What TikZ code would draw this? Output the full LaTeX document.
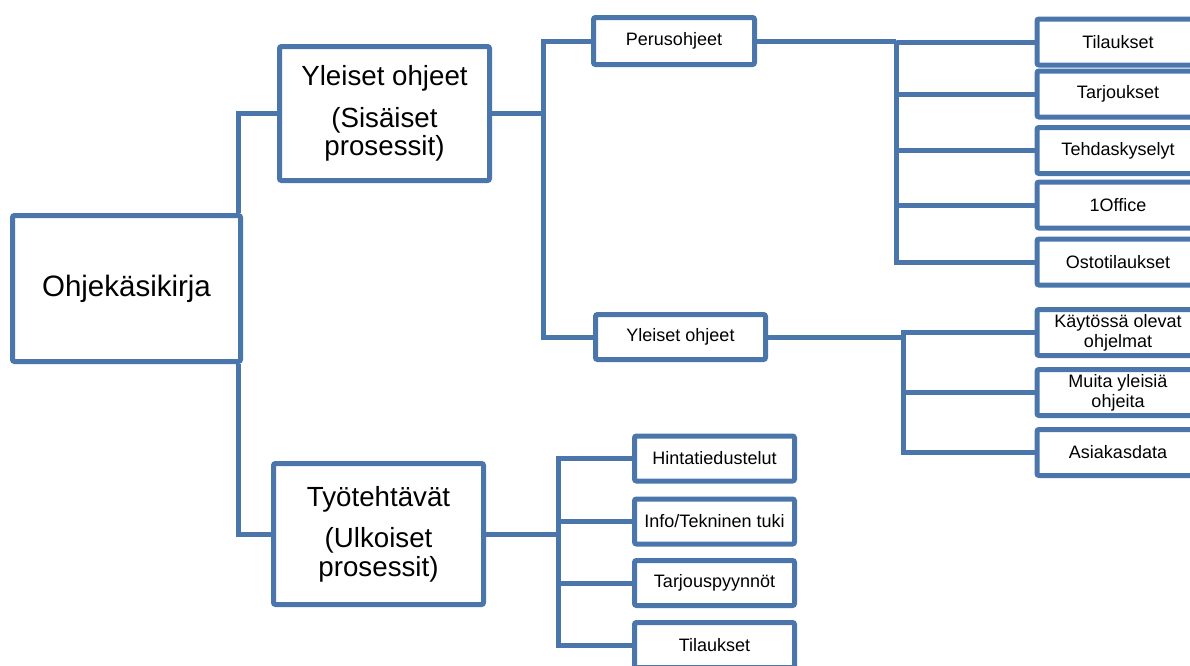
\documentclass[tikz,border=0pt]{standalone}
\usepackage{fontspec}
\setmainfont{Liberation Sans}
\definecolor{orgblue}{RGB}{74,118,172}
\begin{document}
\begin{tikzpicture}[x=1pt,y=-1pt,
  box/.style={draw=orgblue, line width=5pt, fill=white, rounded corners=2pt,
    inner sep=0pt, align=center, text=black},
  rootbox/.style={box, minimum width=228pt, minimum height=146pt,
    font=\fontsize{29.5}{31}\selectfont},
  topbox/.style={box, minimum width=210pt, font=\fontsize{27.7}{28.5}\selectfont},
  midbox/.style={box, minimum height=46pt, font=\fontsize{18}{20}\selectfont},
  leafbox/.style={box, minimum width=162pt, minimum height=46pt,
    font=\fontsize{18}{20}\selectfont},
  taskbox/.style={box, minimum width=160pt, minimum height=45pt,
    font=\fontsize{18}{20}\selectfont},
  link/.style={draw=orgblue, line width=5pt}]
\useasboundingbox (0,0) rectangle (1190,665);
\clip (0,0) rectangle (1190,665);

% main boxes
\node[rootbox] (root) at (126.5,288.5) {Ohjekäsikirja};
\node[topbox, minimum height=134pt] (yo) at (384.5,113.5)
  {Yleiset ohjeet\\[13pt](Sisäiset\\prosessit)};
\node[topbox, minimum height=141pt] (tt) at (378.5,534)
  {Työtehtävät\\[13pt](Ulkoiset\\prosessit)};

% second level
\node[midbox, minimum width=161pt, minimum height=47pt] (per) at (674,41) {Perusohjeet};
\node[midbox, minimum width=170pt, minimum height=45pt] (yo2) at (680.5,337) {Yleiset ohjeet};

% leaves under Perusohjeet
\node[leafbox] (p1) at (1118,42) {Tilaukset};
\node[leafbox] (p2) at (1118,94) {Tarjoukset};
\node[leafbox] (p3) at (1118,150.5) {Tehdaskyselyt};
\node[leafbox] (p4) at (1118,205) {1Office};
\node[leafbox] (p5) at (1118,262) {Ostotilaukset};

% leaves under Yleiset ohjeet
\node[leafbox] (y1) at (1118,332.5) {Käytössä olevat\\ohjelmat};
\node[leafbox] (y2) at (1118,392.5) {Muita yleisiä\\ohjeita};
\node[leafbox] (y3) at (1118,452.5) {Asiakasdata};

% tasks
\node[taskbox] (t1) at (714.5,458.5) {Hintatiedustelut};
\node[taskbox] (t2) at (714.5,521.5) {Info/Tekninen tuki};
\node[taskbox] (t3) at (714.5,583) {Tarjouspyynnöt};
\node[taskbox] (t4) at (714.5,645) {Tilaukset};

% fork points
\coordinate (j1) at (543,113.5);
\coordinate (j2) at (896,41);
\coordinate (j3) at (903,337);
\coordinate (j4) at (558,534);

% connectors
\draw[link] ([xshift=-5pt]root.north east) |- (yo.west);
\draw[link] ([xshift=-5pt]root.south east) |- (tt.west);

\draw[link] (yo.east) -- (j1);
\draw[link] (j1) |- (per.west);
\draw[link] (j1) |- (yo2.west);

\draw[link] (per.east) -- (j2);
\foreach \c in {p1,p2,p3,p4,p5} \draw[link] (j2) |- (\c.west);

\draw[link] (yo2.east) -- (j3);
\foreach \c in {y1,y2,y3} \draw[link] (j3) |- (\c.west);

\draw[link] (tt.east) -- (j4);
\foreach \c in {t1,t2,t3,t4} \draw[link] (j4) |- (\c.west);
\end{tikzpicture}
\end{document}
